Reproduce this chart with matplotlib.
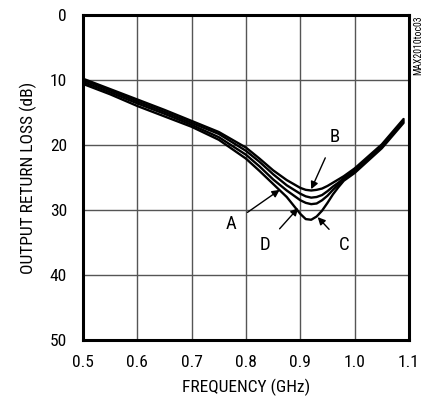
import matplotlib
matplotlib.use("Agg")
import matplotlib.pyplot as plt
from matplotlib import font_manager
from matplotlib.font_manager import FontProperties


def pick_narrow_font():
    entries = font_manager.fontManager.ttflist
    def is_regular(f):
        w = f.weight
        ok_w = (w in (400, 'normal', 'regular', 'book')) if not isinstance(w, int) else w == 400
        return ok_w and f.style == 'normal'
    pref = ['Liberation Sans Narrow', 'Roboto Condensed', 'Open Sans Condensed',
            'Noto Sans Condensed', 'DejaVu Sans Condensed', 'Noto Sans SemiCondensed']
    for name in pref:
        for f in entries:
            if f.name == name and is_regular(f):
                return FontProperties(fname=f.fname)
    for f in entries:
        if is_regular(f) and ('Narrow' in f.name or 'Condensed' in f.name or
                              'ondensed' in str(f.stretch)) and 'Serif' not in f.name \
                and 'Mono' not in f.name and 'CJK' not in f.name:
            return FontProperties(fname=f.fname)
    return None


fp_base = pick_narrow_font()
if fp_base is None:
    fp_base = FontProperties(family=['Liberation Sans', 'DejaVu Sans'])

freq = [0.50, 0.55, 0.60, 0.65, 0.70, 0.75, 0.80, 0.825, 0.85, 0.875, 0.90, 0.91,
        0.92, 0.93, 0.94, 0.95, 0.96, 0.97, 0.98, 1.00, 1.05, 1.09]
curve_b = [9.8, 11.4, 13.0, 14.6, 16.3, 18.0, 20.4, 22.1, 23.9, 25.4, 26.6, 26.9,
           27.0, 26.9, 26.7, 26.3, 25.8, 25.3, 24.8, 23.6, 19.9, 16.0]
curve_a = [10.0, 11.6, 13.3, 14.9, 16.6, 18.3, 20.9, 22.6, 24.5, 26.2, 27.5, 27.9,
           28.1, 28.0, 27.7, 27.1, 26.4, 25.8, 25.1, 23.9, 20.1, 16.2]
curve_d = [10.3, 11.9, 13.6, 15.2, 16.9, 18.8, 21.5, 23.3, 25.3, 27.0, 28.5, 28.9,
           29.1, 29.0, 28.5, 27.8, 26.9, 26.1, 25.3, 24.1, 20.3, 16.4]
curve_c = [10.6, 12.2, 14.0, 15.6, 17.2, 19.2, 22.1, 24.0, 26.0, 28.0, 30.6, 31.4,
           31.5, 31.0, 30.1, 28.9, 27.6, 26.5, 25.5, 24.3, 20.5, 16.6]

x_ticks = [0.5, 0.6, 0.7, 0.8, 0.9, 1.0, 1.1]
x_tick_labels = ['0.5', '0.6', '0.7', '0.8', '0.9', '1.0', '1.1']
y_ticks = [0, 10, 20, 30, 40, 50]
y_tick_labels = ['0', '10', '20', '30', '40', '50']

# label text position, arrow head (data coords)
labels = ['A', 'B', 'C', 'D']
label_text_xy = [(0.773, 32.1), (0.963, 18.8), (0.980, 35.4), (0.835, 35.4)]
label_head_xy = [(0.862, 26.9), (0.920, 26.8), (0.932, 31.1), (0.896, 29.7)]


def fp(size):
    p = fp_base.copy()
    p.set_size(size)
    return p


fig = plt.figure(figsize=(4.25, 4.0), dpi=100)
ax = fig.add_axes([83/425, 60/400, 326/425, 325/400])

for ys in (curve_b, curve_a, curve_d, curve_c):
    ax.plot(freq, ys, color='black', lw=1.7, solid_capstyle='round')

ax.set_xlim(0.5, 1.1)
ax.set_ylim(50, 0)
ax.set_xticks(x_ticks)
ax.set_xticklabels(x_tick_labels, fontproperties=fp(12.5))
ax.set_yticks(y_ticks)
ax.set_yticklabels(y_tick_labels, fontproperties=fp(12.5))
ax.tick_params(axis='x', length=0, pad=11)
ax.tick_params(axis='y', length=0, pad=11.5)
ax.grid(True, color='#555555', lw=1.0)
ax.set_axisbelow(True)
for s in ax.spines.values():
    s.set_linewidth(2.2)
    s.set_color('black')

ax.set_xlabel('FREQUENCY (GHz)', fontproperties=fp(12.5), labelpad=6)
ax.set_ylabel('OUTPUT RETURN LOSS (dB)', fontproperties=fp(12.5), labelpad=9)

for lab, txy, hxy in zip(labels, label_text_xy, label_head_xy):
    ax.annotate(lab, xy=hxy, xytext=txy, fontproperties=fp(13.5), ha='center', va='center',
                arrowprops=dict(arrowstyle='-|>', color='black', lw=1.0,
                                mutation_scale=11, shrinkA=7, shrinkB=0))

fig.text(418/425, 1 - 15/400, 'MAX2010toc03', rotation=90, ha='center', va='top',
         fontproperties=fp(7))

fig.savefig('out.png', dpi=100)
